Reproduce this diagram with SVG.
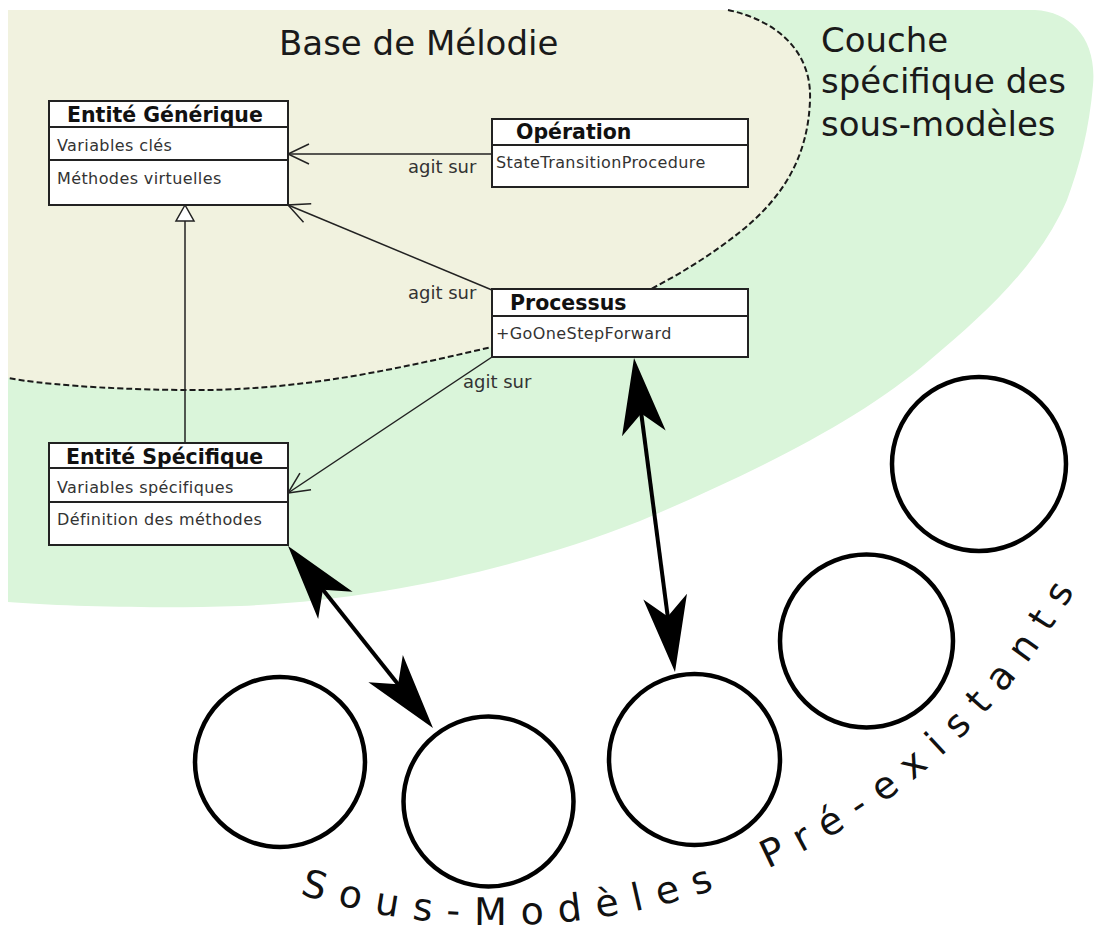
<svg xmlns="http://www.w3.org/2000/svg" xmlns:xlink="http://www.w3.org/1999/xlink" width="1094" height="932" viewBox="0 0 1094 932">
<style>
text{font-family:"DejaVu Sans","Noto Sans",sans-serif}
.box{fill:#fff;stroke:#222;stroke-width:2}
.sep{stroke:#222;stroke-width:2}
.ttl{font-size:20.5px;font-weight:bold;fill:#111}
.body{font-size:16px;fill:#333;letter-spacing:0.4px}
.lbl{font-size:18px;fill:#333}
.big{font-size:34px;fill:#1a1a1a}
.assoc{stroke:#222;stroke-width:1.5;fill:none;marker-end:url(#open)}
.thick{stroke:#000;stroke-width:4;fill:none;marker-start:url(#bighead);marker-end:url(#bighead)}
.sub{fill:#fff;stroke:#000;stroke-width:4.5}
.arc{font-size:38px;fill:#111;letter-spacing:14.5px}
</style>
<defs>
<marker id="open" markerUnits="userSpaceOnUse" viewBox="-24 -12 26 24" markerWidth="26" markerHeight="24" refX="0" refY="0" orient="auto">
<path d="M-21,-10 L0,0 L-21,10" fill="none" stroke="#222" stroke-width="1.5"/>
</marker>
<marker id="bighead" markerUnits="userSpaceOnUse" viewBox="-80 -25 82 50" markerWidth="82" markerHeight="50" refX="-20" refY="0" orient="auto-start-reverse" overflow="visible">
<path d="M0,0 L-76,-22 L-56,0 L-76,22 Z" fill="#000"/>
</marker>
<path id="arcpath" d="M220.6,863.1 A661,661 0 0 0 1138.5,435.1"/>
</defs>

<g id="layers">
<path id="couche-specifique" d="M8,10 H1035 C1072,12 1097,40 1093,85 C1089,130 1080,165 1067,200 C1040,262 990,310 930,360 C860,420 760,470 640,521 C520,568 380,600 240,606 C150,609 60,606 8,602 Z" fill="#daf5da"/>
<path id="base-melodie" d="M8,10 H728 C775,20 812,50 810,100 C808,160 780,200 740,232 C680,280 590,325 492,347 C400,368 300,392 180,390 C100,389 40,384 8,378 Z" fill="#f1f2df"/>
<path d="M728,10 C775,20 812,50 810,100 C808,160 780,200 740,232 C680,280 590,325 492,347 C400,368 300,392 180,390 C100,389 40,384 8,378" fill="none" stroke="#1a1a1a" stroke-width="2" stroke-dasharray="6,3"/>
<text class="big" x="279" y="55">Base de Mélodie</text>
<text class="big" x="821" y="52">Couche</text>
<text class="big" x="821" y="93">spécifique des</text>
<text class="big" x="821" y="136">sous-modèles</text>
</g>

<g id="connectors">
<line class="assoc" x1="492" y1="154" x2="288" y2="154"/>
<line class="assoc" x1="492" y1="290" x2="288" y2="205"/>
<line class="assoc" x1="492" y1="357" x2="288" y2="493"/>
<line x1="185" y1="443" x2="185" y2="221" stroke="#222" stroke-width="1.5"/>
<path d="M185,205 L176,221 L194,221 Z" fill="#fff" stroke="#222" stroke-width="1.5"/>
<text class="lbl" x="408" y="173">agit sur</text>
<text class="lbl" x="408" y="299">agit sur</text>
<text class="lbl" x="463" y="388">agit sur</text>
<line class="thick" x1="300.5" y1="561.6" x2="420.5" y2="712.4"/>
<line class="thick" x1="636.6" y1="377.8" x2="672.4" y2="652.2"/>
</g>

<g id="entite-generique">
<rect class="box" x="49" y="101" width="239" height="104"/>
<line class="sep" x1="49" y1="127" x2="288" y2="127"/>
<line class="sep" x1="49" y1="160" x2="288" y2="160"/>
<text class="ttl" x="67" y="122">Entité Générique</text>
<text class="body" x="57" y="151">Variables clés</text>
<text class="body" x="57" y="184">Méthodes virtuelles</text>
</g>

<g id="operation">
<rect class="box" x="492" y="119" width="256" height="68"/>
<line class="sep" x1="492" y1="145" x2="748" y2="145"/>
<text class="ttl" x="516" y="139">Opération</text>
<text class="body" x="496" y="168">StateTransitionProcedure</text>
</g>

<g id="processus">
<rect class="box" x="492" y="289" width="256" height="68"/>
<line class="sep" x1="492" y1="316" x2="748" y2="316"/>
<text class="ttl" x="510" y="310">Processus</text>
<text class="body" x="496" y="339">+GoOneStepForward</text>
</g>

<g id="entite-specifique">
<rect class="box" x="49" y="443" width="239" height="102"/>
<line class="sep" x1="49" y1="468" x2="288" y2="468"/>
<line class="sep" x1="49" y1="502" x2="288" y2="502"/>
<text class="ttl" x="66" y="464">Entité Spécifique</text>
<text class="body" x="57" y="493">Variables spécifiques</text>
<text class="body" x="57" y="525">Définition des méthodes</text>
</g>

<g id="sous-modeles">
<circle class="sub" cx="280" cy="762" r="85"/>
<circle class="sub" cx="488.5" cy="801.5" r="85"/>
<circle class="sub" cx="694.5" cy="759.5" r="85.5"/>
<circle class="sub" cx="866.5" cy="641" r="86.5"/>
<circle class="sub" cx="979" cy="464" r="87"/>
<text class="arc"><textPath xlink:href="#arcpath" startOffset="85">Sous-Modèles</textPath></text>
<text class="arc"><textPath xlink:href="#arcpath" startOffset="564">Pré-existants</textPath></text>
</g>
</svg>
